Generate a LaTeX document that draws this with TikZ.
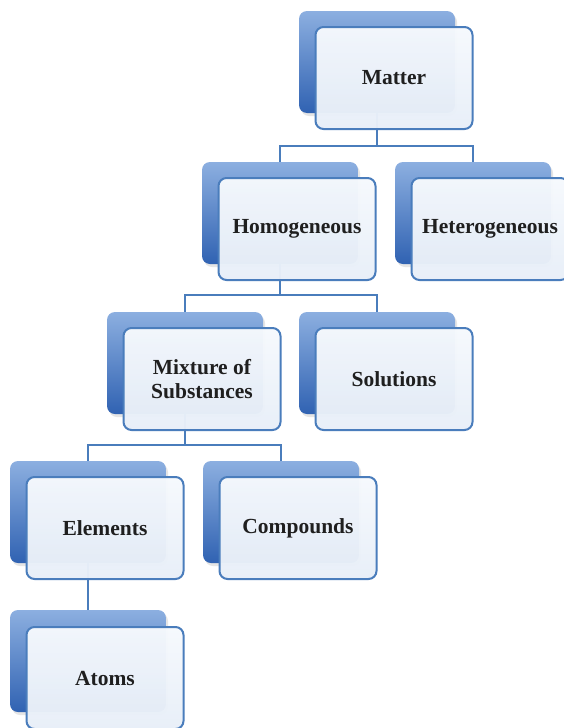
\documentclass[tikz,border=0pt]{standalone}
\usepackage{fontspec}
\setmainfont{Liberation Serif}
\definecolor{lineblue}{RGB}{74,125,188}
\definecolor{shtop}{RGB}{140,175,224}
\definecolor{shbot}{RGB}{48,98,178}
\definecolor{fronttop}{RGB}{246,249,253}
\definecolor{frontbot}{RGB}{232,239,248}
\tikzset{
  backbox/.style={rectangle, rounded corners=8pt, minimum width=156pt, minimum height=102pt,
    top color=shtop, bottom color=shbot, draw=none, inner sep=0pt},
  frontbox/.style={rectangle, rounded corners=8pt, minimum width=157pt, minimum height=102pt,
    top color=fronttop, bottom color=frontbot, draw=lineblue, line width=2pt, fill opacity=0.97,
    text opacity=1, inner sep=0pt, align=center, font=\bfseries\fontsize{21.5}{24}\selectfont, text=black!88},
  conn/.style={draw=lineblue, line width=2pt},
  dropsh/.style={rectangle, rounded corners=8pt, minimum width=156pt, minimum height=102pt, fill=black!10, draw=none}
}
\begin{document}
\begin{tikzpicture}[x=1pt,y=-1pt]
\useasboundingbox (0,0) rectangle (564,728);
\clip (0,0) rectangle (564,728);
\fill[white] (0,0) rectangle (564,728);
% soft drop shadows under the back boxes
\foreach \n/\x/\y in {Matter/377/62, Homo/280/213, Het/473/213, Mix/185/363, Sol/377/363, Elem/88/512, Comp/281/512, Atom/88/661}{
  \node[dropsh] at (\x+2,\y+3) {};
}
% back boxes
\node[backbox] (sMatter) at (377,62) {};
\node[backbox] (sHomo) at (280,213) {};
\node[backbox] (sHet) at (473,213) {};
\node[backbox] (sMix) at (185,363) {};
\node[backbox] (sSol) at (377,363) {};
\node[backbox] (sElem) at (88,512) {};
\node[backbox] (sComp) at (281,512) {};
\node[backbox] (sAtom) at (88,661) {};
% junctions
\coordinate (j1) at (377,146);
\coordinate (j2) at (280,294.5);
\coordinate (j3) at (185,444.5);
% connectors
\draw[conn] (sMatter.south) -- (j1);
\draw[conn] (sHomo.north) |- (j1) -| (sHet.north);
\draw[conn] (sHomo.south) -- (j2);
\draw[conn] (sMix.north) |- (j2) -| (sSol.north);
\draw[conn] (sMix.south) -- (j3);
\draw[conn] (sElem.north) |- (j3) -| (sComp.north);
\draw[conn] (sElem.south) -- (sAtom.north);
% front boxes
\node[frontbox] (Matter) at (394,78) {Matter};
\node[frontbox] (Homo) at (297,229) {Homogeneous};
\node[frontbox] (Het) at (490,229) {Heterogeneous};
\node[frontbox] (Mix) at (202,379) {Mixture of\\Substances};
\node[frontbox] (Sol) at (394,379) {Solutions};
\node[frontbox] (Elem) at (105,528) {Elements};
\node[frontbox] (Comp) at (298,528) {Compounds};
\node[frontbox] (Atom) at (105,678) {Atoms};
\end{tikzpicture}
\end{document}
